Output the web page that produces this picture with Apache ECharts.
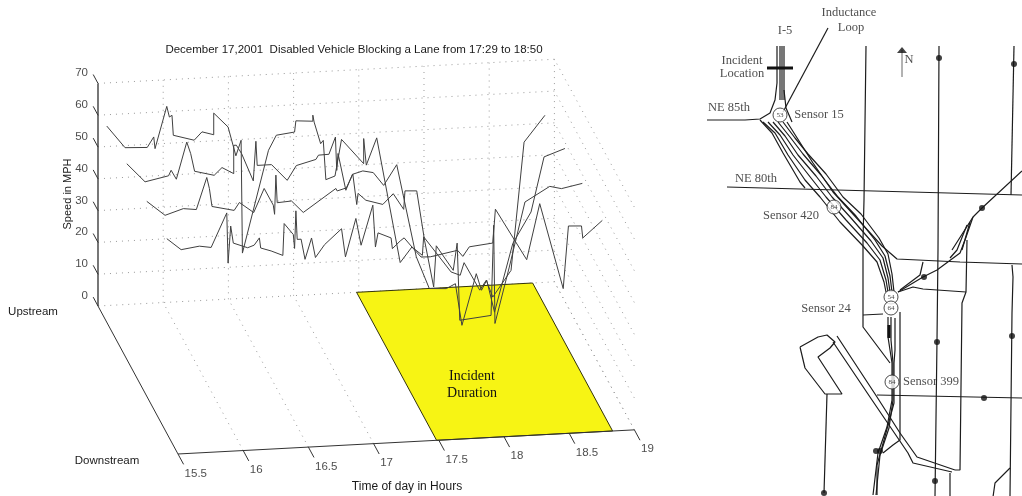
<!DOCTYPE html>
<html><head><meta charset="utf-8">
<style>html,body{margin:0;padding:0;background:#fff}#c{width:1022px;height:496px}</style>
<script src="https://cdn.jsdelivr.net/npm/echarts@6/dist/echarts.min.js"></script>
</head><body><div id="c"></div>
<script>
// ---- Speed data: [time of day in hours, speed in MPH] per sensor
const sensor15 = [[15.50,61.7],[15.64,54.6],[15.81,54.3],[15.86,57.5],[15.87,53.8],[15.96,66.9],[15.98,63.5],[16.00,64.0],[16.01,57.7],[16.17,55.8],[16.23,58.3],[16.32,57.2],[16.32,64.0],[16.43,59.4],[16.49,50.2],[16.53,55.0],[16.54,19.5],[16.74,51.4],[16.80,56.0],[16.94,56.7],[16.95,60.2],[17.08,59.8],[17.08,61.7],[17.09,59.5],[17.14,52.6],[17.16,53.6],[17.18,41.2],[17.25,42.2],[17.30,53.6],[17.47,45.6],[17.47,53.5],[17.49,45.1],[17.57,53.5],[17.75,13.9],[17.84,18.6],[17.92,15.8],[17.93,21.6],[18.14,10.1],[18.21,8.9],[18.24,12.8],[18.36,3.9],[18.41,6.9],[18.46,1.5],[18.60,9.6],[18.70,49.7],[18.86,57.8]];
const sensor420 = [[15.50,61.5],[15.64,55.5],[15.82,57.0],[15.84,58.7],[15.88,55.8],[15.96,67.3],[15.99,63.6],[16.02,58.0],[16.17,56.4],[16.23,58.7],[16.32,56.6],[16.32,65.5],[16.34,65.5],[16.38,62.8],[16.47,54.0],[16.49,66.4],[16.50,58.8],[16.61,58.8],[16.73,53.6],[16.80,58.1],[16.95,59.7],[16.97,61.0],[17.05,61.1],[17.10,66.4],[17.11,55.9],[17.12,61.2],[17.18,49.5],[17.23,54.4],[17.31,55.3],[17.39,54.6],[17.47,50.4],[17.57,56.7],[17.72,27.4],[17.82,17.2],[17.95,16.9],[18.02,18.3],[18.07,5.1],[18.18,21.1],[18.22,15.8],[18.26,18.9],[18.32,8.7],[18.46,30.0],[18.60,39.6],[18.70,56.7],[18.86,59.0]];
const sensor24 = [[15.50,61.3],[15.64,56.6],[15.78,58.4],[15.88,57.9],[15.96,67.8],[15.98,64.3],[16.00,58.6],[16.17,57.0],[16.21,59.4],[16.32,56.0],[16.40,63.4],[16.47,58.0],[16.48,55.1],[16.49,67.4],[16.50,58.7],[16.61,59.0],[16.70,55.2],[16.95,62.2],[16.96,61.4],[17.03,62.2],[17.08,66.4],[17.11,56.8],[17.12,60.3],[17.18,58.0],[17.31,56.4],[17.39,59.6],[17.47,54.5],[17.48,60.3],[17.57,60.1],[17.63,44.4],[17.70,29.6],[17.72,42.5],[17.85,34.5],[17.88,43.0],[17.90,18.7],[18.14,19.7],[18.16,48.0],[18.17,17.1],[18.28,34.6],[18.40,54.8],[18.59,59.3],[18.68,58.4],[18.84,59.7]];
const sensor399 = [[15.50,61.2],[15.61,57.5],[15.75,58.3],[15.84,57.7],[15.96,68.3],[15.97,52.5],[15.99,64.1],[16.01,58.7],[16.12,57.0],[16.17,57.7],[16.21,59.9],[16.22,56.7],[16.30,55.6],[16.39,54.0],[16.40,64.0],[16.47,60.4],[16.48,56.0],[16.49,67.8],[16.50,58.8],[16.53,58.8],[16.56,52.4],[16.61,59.0],[16.64,52.8],[16.71,56.7],[16.84,61.4],[16.87,52.5],[16.95,64.4],[16.99,55.9],[17.08,68.3],[17.10,55.1],[17.12,59.5],[17.22,57.7],[17.23,54.3],[17.29,56.6],[17.32,57.5],[17.39,54.0],[17.45,51.2],[17.52,51.1],[17.73,52.7],[17.77,50.7],[17.82,53.6],[18.00,54.4],[18.02,65.0],[18.26,48.6],[18.36,66.0],[18.54,38.9],[18.58,58.5],[18.68,58.3],[18.69,54.5],[18.84,59.7]];
const sensorPositions = [0.11, 0.36, 0.61, 0.86];
const timeTicks = [15.5, 16, 16.5, 17, 17.5, 18, 18.5, 19];
const speedTicks = [0, 10, 20, 30, 40, 50, 60, 70];
const incidentTimes = [17.483, 18.833];
const titleText = 'December 17,2001  Disabled Vehicle Blocking a Lane from 17:29 to 18:50';

// ---- Oblique view of (time, road position, speed) onto the hidden plane axes
const T0 = 15.5, T1 = 19;
const proj = (t, s, v) => [t + 0.6135 * s, v + 2.17 * (t - T0) - 46.54 * s];

const GRAY = '#404040', SANS = '"Liberation Sans",Arial,sans-serif', SERIF = '"Liberation Serif","Times New Roman",serif';
const series = [];
const line3d = (pts, style, z) => series.push({type:'line', xAxisIndex:0, yAxisIndex:0, symbol:'none', silent:true, animation:false, clip:false, z:z||2,
  data: pts.map(p => proj(p[0], p[1], p[2])), lineStyle: style});
const dotted = {color:'#9a9a9a', width:1, type:[1,5]};
// back wall and right wall grid
speedTicks.slice(1).forEach(v => {
  line3d([[T0,0,v],[T1,0,v],[T1,1,v]], dotted, 1);
});
line3d([[T1,1,0],[T1,0,0],[T0,0,0]], dotted, 1);
timeTicks.slice(1).forEach(t => {
  line3d([[t,1,0],[t,0,0],[t,0,70]], dotted, 1);
});
// axes
line3d([[T0,0,0],[T0,0,70]], {color:'#555', width:1.6}, 3);
line3d([[T0,0,0],[T0,1,0],[T1,1,0]], {color:'#333', width:1}, 3);
speedTicks.forEach(v => line3d([[T0,0,v],[T0,-0.06,v]], {color:'#333', width:1}, 3));
timeTicks.forEach(t => line3d([[t,1,0],[t,1.07,0]], {color:'#333', width:1}, 3));
// incident patch
series.push({type:'custom', xAxisIndex:0, yAxisIndex:0, silent:true, animation:false, clip:false, z:2,
  data:[[0]],
  renderItem:(params, api) => {
    const [a,b] = incidentTimes;
    const pts = [[a,0],[b,0],[b,1],[a,1]].map(p => api.coord(proj(p[0],p[1],0)));
    return {type:'polygon', shape:{points:pts}, style:{fill:'#f7f414', stroke:'#33330a', lineWidth:1}};
  }});
// speed traces
[sensor15, sensor420, sensor24, sensor399].forEach((arr,i) => {
  line3d(arr.map(d => [d[0], sensorPositions[i], d[1]]), {color:GRAY, width:1}, 5);
});
// tick labels
const labels3d = (items, font) => series.push({type:'scatter', xAxisIndex:0, yAxisIndex:0, silent:true, animation:false, clip:false, z:6, symbolSize:0,
  data: items.map(it => ({value: proj(it.t, it.s, it.v), label:{show:true, formatter:it.text, position:it.pos||'inside', offset:it.off||[0,0], align:it.align||'center', verticalAlign:'middle', color:'#1a1a1a', fontFamily:font||SANS, fontSize:it.size||11.5, rotate:it.rot||0}}))});
labels3d(timeTicks.map(t => ({t, s:1.07, v:0, text:String(t), align:'left', off:[1,9]})));
labels3d(speedTicks.map(v => ({t:T0, s:-0.075, v, text:String(v), align:'right', off:[-4,1]})));

// ---- Location map (map units: sheet position)
const thin = [
 [[707,120],[745,120],[760,119],[770,113],[775,100],[777,83],[777,46]],
 [[780,100],[780,46]],[[782,100],[782,46]],[[784,100],[784,46]],
 [[792,122],[786,108],[784,90]],
 [[760,120],[772,133],[783,153],[800,182],[805,188]],
 [[763,122],[775,133],[788,155],[805,180],[820,197],[840,222],[863,246],[877,262],[884,282],[886,292]],
 [[768,122],[780,135],[793,155],[811,178],[826,197],[846,220],[867,243],[880,260],[886,280],[888,292]],
 [[773,122],[785,136],[798,155],[816,176],[832,197],[851,218],[871,241],[883,258],[888,278],[890,292]],
 [[778,122],[790,137],[803,154],[821,175],[838,197],[856,216],[875,240],[885,256],[890,276],[892,292]],
 [[783,122],[795,138],[808,154],[826,174],[843,197],[861,214],[879,238],[888,254],[892,274],[894,292]],
 [[787,122],[813,163],[833,192],[882,246],[897,259],[960,262],[1022,264]],
 [[866,46],[864,200],[863,240],[863,327],[890,363]],[[863,315],[883,314]],
 [[939,46],[938,250],[937,340],[935,497]],
 [[1014,46],[1011,195]],
 [[727,187],[800,189],[1022,195]],
 [[1022,171],[982,208],[973,217],[952,250]],
 [[973,217],[965,240],[960,253],[937,270],[923,277],[898,292]],
 [[970,222],[962,250]],[[967,225],[957,250],[950,258]],
 [[967,240],[966,292],[962,303],[960,470],[955,470]],
 [[923,262],[920,275],[900,290]],[[898,292],[913,287],[923,289],[966,292]],
 [[888,317],[888,337],[892,363],[892,400],[887,427],[878,453],[873,495]],
 [[891,317],[891,340],[893,363],[893,400],[889,428],[880,455],[876,495]],
 [[895,318],[895,350],[894,363],[894,403],[884,440],[877,465],[877,495]],
 [[900,312],[900,440],[893,445],[883,453]],
 [[877,395],[1022,398]],
 [[1012,265],[1013,277],[1012,313],[1010,497]],
 [[1010,468],[995,483],[993,497]],[[950,473],[950,497]],
 [[837,336],[877,397],[900,433],[917,457],[955,470]],
 [[833,342],[872,400],[908,453],[913,463],[952,472]],
 [[800,347],[818,337],[827,335],[835,342],[830,348],[818,357],[842,394],[825,394],[805,368],[800,347]],
 [[827,394],[824,493]],
 [[828,28],[783,112]]
];
const thick = [[[767,68],[793,68]],[[889,325],[889,338]]];
const arrow = [[902,77],[902,50]];
const dots = [[939,58],[1014,64],[982,208],[924,277],[937,342],[1012,336],[984,398],[935,481],[824,493],[876,451],[880,451]];
const shields = [[780,115,'53'],[834,207,'84'],[891,297,'54'],[891,308,'64'],[892,382,'84']];
const mapLabels = [['Inductance',849,13],['Loop',851,28],['I-5',785,31],['Incident',742,61],['Location',742,74],['NE 85th',729,108],['Sensor 15',819,115],['NE 80th',756,179],['Sensor 420',791,216],['Sensor 24',826,309],['Sensor 399',931,382],['N',909,60]];

const mapLine = (pts, w, c) => series.push({type:'line', xAxisIndex:1, yAxisIndex:1, symbol:'none', silent:true, animation:false, z:2, data:pts, lineStyle:{color:c||'#1c1c1c', width:w}});
thin.forEach(p => mapLine(p, 1.2));
thick.forEach(p => mapLine(p, 3, '#111'));
mapLine(arrow, 1, '#666');
series.push({type:'scatter', xAxisIndex:1, yAxisIndex:1, silent:true, animation:false, z:3, symbol:'triangle', symbolSize:[10,6], itemStyle:{color:'#111'}, data:[arrow[1]]});
series.push({type:'scatter', xAxisIndex:1, yAxisIndex:1, silent:true, animation:false, z:3, symbolSize:6, itemStyle:{color:'#111'}, data:dots});
series.push({type:'scatter', xAxisIndex:1, yAxisIndex:1, silent:true, animation:false, z:4, symbolSize:14, itemStyle:{color:'#fff', borderColor:'#222', borderWidth:1},
  data:shields.map(d => ({value:[d[0],d[1]], label:{show:true, position:'inside', formatter:d[2], fontFamily:SERIF, fontSize:7, color:'#111'}}))});
series.push({type:'scatter', xAxisIndex:1, yAxisIndex:1, silent:true, animation:false, z:5, symbolSize:0,
  data:mapLabels.map(d => ({value:[d[1],d[2]], label:{show:true, position:'inside', formatter:d[0], fontFamily:SERIF, fontSize:12.5, color:'#222'}}))});

const chart = echarts.init(document.getElementById('c'), null, {renderer:'canvas'});
const hide = {show:false};
chart.setOption({
  animation:false, backgroundColor:'#fff',
  title:{text:titleText, left:349, top:39, textAlign:'center', textStyle:{fontFamily:SANS, fontSize:11.5, fontWeight:'normal', color:'#1a1a1a'}},
  grid:[{left:0, top:0, width:1022, height:496},{left:700, top:0, width:322, height:496}],
  xAxis:[{type:'value', min:14.7485, max:22.5859, ...hide},{type:'value', gridIndex:1, min:700, max:1022, ...hide}],
  yAxis:[{type:'value', min:-59.748, max:96.226, ...hide},{type:'value', gridIndex:1, min:0, max:496, inverse:true, ...hide}],
  graphic:[
    {type:'text', x:33, y:312, style:{text:'Upstream', align:'center', verticalAlign:'middle', font:'11.5px '+SANS, fill:'#1a1a1a'}},
    {type:'text', x:107, y:461, style:{text:'Downstream', align:'center', verticalAlign:'middle', font:'11.5px '+SANS, fill:'#1a1a1a'}},
    {type:'text', x:407, y:487, style:{text:'Time of day in Hours', align:'center', verticalAlign:'middle', font:'12px '+SANS, fill:'#1a1a1a'}},
    {type:'text', x:68, y:194, rotation:Math.PI/2, style:{text:'Speed in MPH', align:'center', verticalAlign:'middle', font:'11px '+SANS, fill:'#1a1a1a'}},
    {type:'text', x:472, y:376, style:{text:'Incident', align:'center', verticalAlign:'middle', font:'14px '+SERIF, fill:'#111'}, z:10},
    {type:'text', x:472, y:393, style:{text:'Duration', align:'center', verticalAlign:'middle', font:'14px '+SERIF, fill:'#111'}, z:10}
  ],
  series
});
</script></body></html>
